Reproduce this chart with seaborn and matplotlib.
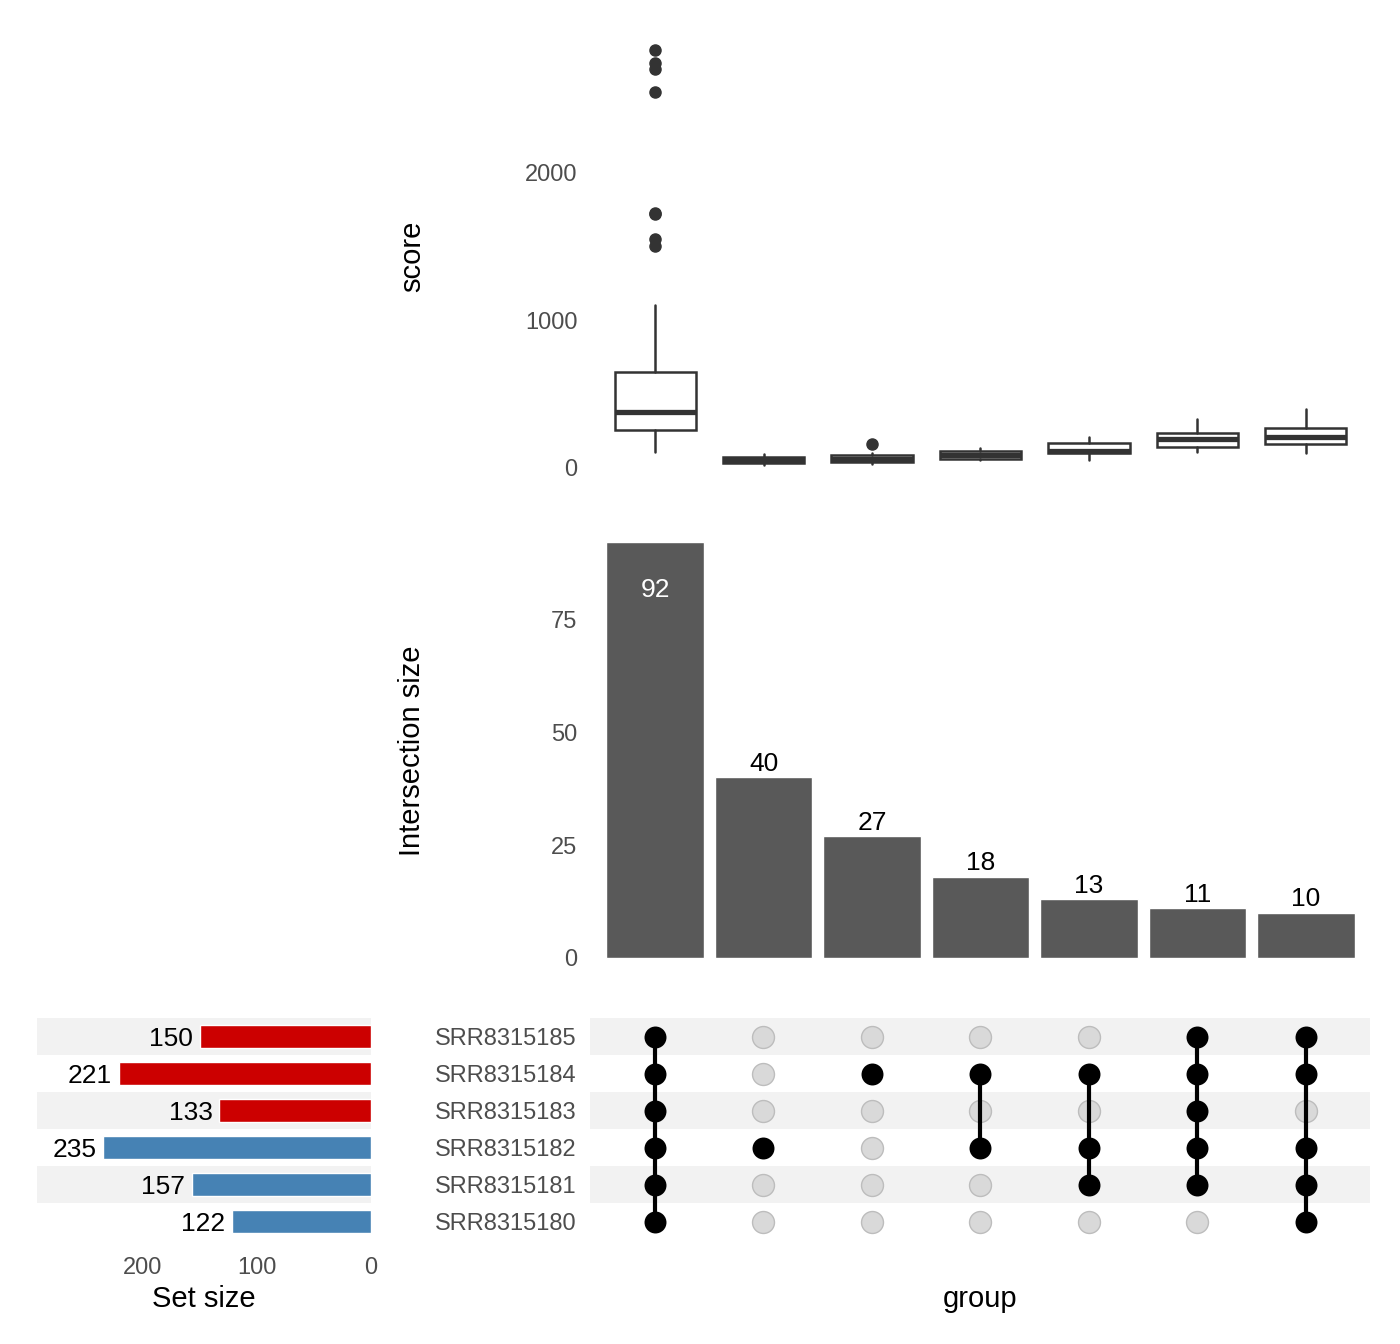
import numpy as np
import pandas as pd
import seaborn as sns
import matplotlib.pyplot as plt

# --- data ---
inter_sizes = [92, 40, 27, 18, 13, 11, 10]
set_names = ['SRR8315185', 'SRR8315184', 'SRR8315183',
             'SRR8315182', 'SRR8315181', 'SRR8315180']
set_sizes = [150, 221, 133, 235, 157, 122]
set_colors = ['#CC0000', '#CC0000', '#CC0000', '#4682B4', '#4682B4', '#4682B4']

# membership per intersection column (names in each intersection)
members = [
    set_names,
    ['SRR8315182'],
    ['SRR8315184'],
    ['SRR8315184', 'SRR8315182'],
    ['SRR8315184', 'SRR8315182', 'SRR8315181'],
    ['SRR8315185', 'SRR8315184', 'SRR8315183', 'SRR8315182', 'SRR8315181'],
    ['SRR8315185', 'SRR8315184', 'SRR8315182', 'SRR8315181', 'SRR8315180'],
]

# box statistics for "score" per intersection
q1 = [258, 36, 38, 61, 99, 140, 161]
med = [380, 55, 60, 90, 115, 197, 207]
q3 = [651, 77, 88, 115, 167, 235, 273]
whislo = [108, 20, 25, 54, 54, 106, 100]
whishi = [1105, 95, 100, 138, 208, 332, 398]
fliers = [[1505, 1553, 1720, 1730, 2549, 2705, 2746, 2834], [], [163], [], [], [], []]

# --- layout helpers ---
W, H = 1400, 1344
def px(l, t, r, b):
    return [l / W, 1 - b / H, (r - l) / W, (b - t) / H]

sns.set_theme(style='white')
plt.rcParams['font.family'] = ['Liberation Sans', 'DejaVu Sans']
plt.rcParams['axes.labelcolor'] = 'black'
plt.rcParams['text.color'] = 'black'

TICK_C = '#4D4D4D'
TICK_FS = 17
LAB_FS = 19
TITLE_FS = 21
fig = plt.figure(figsize=(W / 100, H / 100), dpi=100)

ax_box = fig.add_axes(px(601, 30, 1360, 482))
ax_bar = fig.add_axes(px(601, 523, 1360, 979))
ax_mat = fig.add_axes(px(590, 1018, 1370, 1240))
ax_set = fig.add_axes(px(37, 1018, 371, 1240))

# --- boxplot panel ---
stats = [dict(q1=q1[i], med=med[i], q3=q3[i], whislo=whislo[i], whishi=whishi[i],
              fliers=fliers[i]) for i in range(len(q1))]
ax_box.bxp(stats, positions=range(len(stats)), widths=0.75, showcaps=False,
           patch_artist=True,
           boxprops=dict(facecolor='white', edgecolor='#333333', linewidth=1.8),
           medianprops=dict(color='#333333', linewidth=3.8),
           whiskerprops=dict(color='#333333', linewidth=1.8),
           flierprops=dict(marker='o', markerfacecolor='#333333',
                           markeredgecolor='#333333', markersize=8))
ax_box.set_xlim(-0.5, 6.5)
ax_box.set_ylim(-95, 2969)
ax_box.set_yticks([0, 1000, 2000])
ax_box.set_xticks([])
ax_box.set_ylabel('score', fontsize=TITLE_FS)
ax_box.yaxis.set_label_coords(-0.249, 0.5)
ax_box.yaxis.label.set_verticalalignment('center')

# --- intersection size bars ---
bar_df = pd.DataFrame({'pos': range(len(inter_sizes)), 'size': inter_sizes})
sns.barplot(data=bar_df, x='pos', y='size', color='#595959', saturation=1,
            width=0.9, ax=ax_bar, native_scale=True)
for i, v in enumerate(inter_sizes):
    if v == max(inter_sizes):
        ax_bar.annotate(str(v), (i, v), xytext=(0, -39), textcoords='offset points',
                        ha='center', va='baseline', fontsize=LAB_FS, color='white')
    else:
        ax_bar.annotate(str(v), (i, v), xytext=(0, 4.5), textcoords='offset points',
                        ha='center', va='baseline', fontsize=LAB_FS, color='black')
ax_bar.set_xlim(-0.5, 6.5)
ax_bar.set_ylim(-4.67, 96.3)
ax_bar.set_yticks([0, 25, 50, 75])
ax_bar.set_xticks([])
ax_bar.set_xlabel('')
ax_bar.set_ylabel('Intersection size', fontsize=TITLE_FS)
ax_bar.yaxis.set_label_coords(-0.249, 0.5)
ax_bar.yaxis.label.set_verticalalignment('center')

# --- matrix ---
rows = {n: i for i, n in enumerate(set_names)}
for r in range(0, len(set_names), 2):
    ax_mat.axhspan(r - 0.5, r + 0.5, color='#F2F2F2', zorder=0, lw=0)
    ax_set.axhspan(r - 0.5, r + 0.5, color='#F2F2F2', zorder=0, lw=0)

mat_df = pd.DataFrame([(c, rows[n], n in members[c])
                       for c in range(len(members)) for n in set_names],
                      columns=['col', 'row', 'in'])
off = mat_df[~mat_df['in']]
on = mat_df[mat_df['in']]
ax_mat.scatter(off['col'], off['row'], s=250, color='#D9D9D9',
               edgecolor='#BDBDBD', linewidth=1, zorder=2)
for c, grp in on.groupby('col'):
    if len(grp) > 1:
        ax_mat.vlines(c, grp['row'].min(), grp['row'].max(), color='black',
                      linewidth=3, zorder=3)
ax_mat.scatter(on['col'], on['row'], s=250, color='black', zorder=4, lw=0)
ax_mat.set_xlim(-0.599, 6.59)
ax_mat.set_ylim(5.5, -0.5)
ax_mat.set_yticks(range(len(set_names)))
ax_mat.set_yticklabels(set_names)
ax_mat.set_xticks([])
ax_mat.set_xlabel('group', fontsize=TITLE_FS)
ax_mat.xaxis.set_label_coords(0.5, -0.266)
ax_mat.xaxis.label.set_verticalalignment('center')

# --- set size bars ---
set_df = pd.DataFrame({'name': set_names, 'size': set_sizes})
sns.barplot(data=set_df, x='size', y='name', hue='name', palette=set_colors,
            saturation=1, width=0.6, orient='h', legend=False, ax=ax_set)
for i, v in enumerate(set_sizes):
    ax_set.annotate(str(v), (v, i), xytext=(-5, 0), textcoords='offset points',
                    ha='right', va='center_baseline', fontsize=LAB_FS, color='black')
ax_set.set_xlim(293, 0)
ax_set.set_ylim(5.5, -0.5)
ax_set.set_xticks([200, 100, 0])
ax_set.set_yticks([])
ax_set.set_ylabel('')
ax_set.set_xlabel('Set size', fontsize=TITLE_FS)
ax_set.xaxis.set_label_coords(0.5, -0.266)
ax_set.xaxis.label.set_verticalalignment('center')

for ax in (ax_box, ax_bar, ax_mat, ax_set):
    for s in ax.spines.values():
        s.set_visible(False)
    ax.grid(False)
    ax.set_facecolor('none')
    ax.tick_params(length=0, labelsize=TICK_FS, labelcolor=TICK_C)

ax_box.tick_params(axis='y', pad=17)
ax_bar.tick_params(axis='y', pad=17)
ax_mat.tick_params(axis='y', pad=9.4)
ax_set.tick_params(axis='x', pad=12)

fig.savefig('out.png', dpi=100)
